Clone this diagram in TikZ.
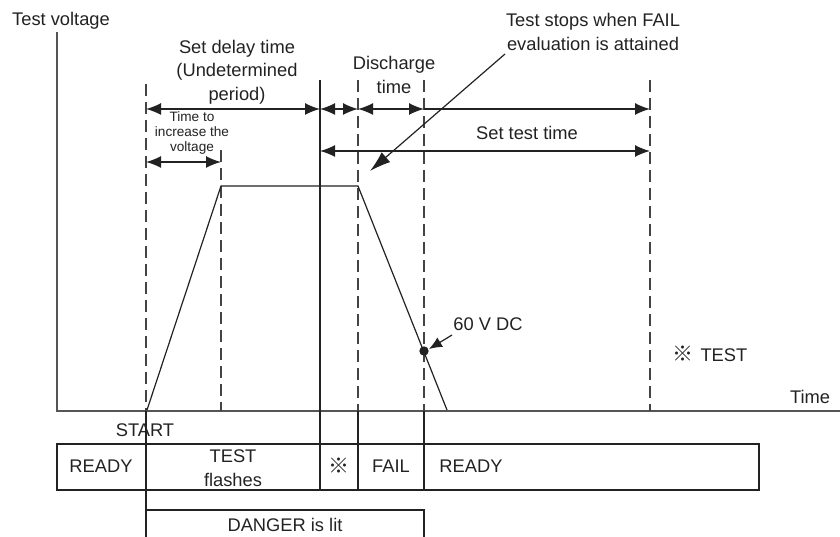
\documentclass[tikz,border=0pt]{standalone}
\usepackage{fontspec}
\setmainfont{Liberation Sans}
\newfontfamily\cjk{Noto Sans CJK JP}
\usetikzlibrary{arrows.meta}
\definecolor{ink}{HTML}{222222}
\definecolor{axisc}{HTML}{555555}
\begin{document}
\begin{tikzpicture}[x=1pt,y=-1pt,
  every node/.style={inner sep=0pt, text=ink, align=center},
  lbl/.style={font=\fontsize{18.3}{23.5}\selectfont},
  small/.style={font=\fontsize{13.6}{15}\selectfont},
  axisline/.style={draw=axisc, line width=1.7pt},
  thin/.style={draw=ink, line width=1.2pt},
  guide/.style={draw=ink!85, line width=1.4pt, dash pattern=on 12pt off 6pt},
  dim/.style={draw=ink, line width=1.4pt, {Latex[length=15pt,width=12pt]}-{Latex[length=15pt,width=12pt]}},
  dimr/.style={draw=ink, line width=1.4pt, -{Latex[length=15pt,width=12pt]}},
  pointer/.style={draw=ink, line width=1.2pt, -{Latex[length=21pt,width=13pt]}},
  pointsm/.style={draw=ink, line width=1.2pt, -{Latex[length=13pt,width=11pt]}},
  boxline/.style={draw=ink, line width=1.4pt}]
\useasboundingbox (0,0) rectangle (840,537);

% axes
\coordinate (ytop) at (57,32);
\coordinate (orig) at (57,411);
\coordinate (xend) at (840,411);
\draw[axisline] (ytop) -- (orig) -- (xend);

% vertical guides
\coordinate (a1) at (146,84);  \coordinate (a0) at (146,411);
\coordinate (b1) at (221,150); \coordinate (b0) at (221,411);
\coordinate (c1) at (320,80);  \coordinate (c0) at (320,490);
\coordinate (d1) at (358,80);  \coordinate (d0) at (358,411);
\coordinate (e1) at (424,80);  \coordinate (e0) at (424,411);
\coordinate (f1) at (650,80);  \coordinate (f0) at (650,411);
\draw[guide] (a1) -- (a0);
\draw[guide] (b1) -- (b0);
\draw[guide] (d1) -- (d0);
\draw[guide] (e1) -- (e0);
\draw[guide] (f1) -- (f0);
\draw[thin, line width=1.4pt] (c1) -- (c0);

% waveform
\coordinate (w0) at (147,410);
\coordinate (w1) at (221,186);
\coordinate (w2) at (358,186);
\coordinate (w3) at (447,410);
\draw[thin] (w0) -- (w1) -- (w2) -- (w3);
\coordinate (dot) at (424,351);
\fill[ink] (dot) circle (4.7pt);

% dimension arrows row 1
\coordinate (r1a) at (146,109); \coordinate (r1b) at (320,109);
\coordinate (r1c) at (358,109); \coordinate (r1d) at (424,109);
\coordinate (r1e) at (650,109);
\draw[dim] (r1a) -- (r1b);
\draw[dim] (r1b) -- (r1c);
\draw[dim] (r1c) -- (r1d);
\draw[dimr] (r1d) -- (r1e);
% row 2
\coordinate (r2a) at (320,151); \coordinate (r2b) at (650,151);
\draw[dim] (r2a) -- (r2b);
% rise time
\coordinate (r3a) at (146,162); \coordinate (r3b) at (221,162);
\draw[dim] (r3a) -- (r3b);

% labels
\node[lbl, anchor=west] (tv) at (12,21) {Test voltage};
\node[lbl] (sdt) at (237,72) {Set delay time\\(Undetermined\\period)};
\node[lbl] (dis) at (394,75) {Discharge\\time};
\node[lbl] (stop) at (593,32) {Test stops when FAIL\\evaluation is attained};
\node[small] (rise) at (192,133) {Time to\\increase the\\voltage};
\node[lbl] (stt) at (527,133) {Set test time};
\node[lbl] (v60) at (488,324) {60 V DC};
\node[lbl, anchor=west] (note) at (672,354) {{\cjk\fontsize{21}{21}\selectfont ※}\hspace{0.4em}TEST};
\node[lbl] (time) at (810,397) {Time};
\node[lbl] (start) at (145,430) {START};

% pointers
\coordinate (p1s) at (505,54);
\coordinate (p1e) at (370,171);
\draw[pointer] (p1s) -- (p1e);
\coordinate (p2s) at (452,335);
\coordinate (p2e) at (429,349);
\draw[pointsm] (p2s) -- (p2e);

% status bar
\draw[boxline] (57,444) rectangle (759,490);
\draw[thin, line width=1.4pt] (146,411) -- (146,537);
\draw[thin, line width=1.4pt] (358,411) -- (358,490);
\draw[thin, line width=1.4pt] (424,411) -- (424,490);
\node[lbl] (s1) at (101,466) {READY};
\node[lbl] (s2) at (233,468) {TEST\\flashes};
\node[lbl] (s3) at (339,466) {\cjk\fontsize{21}{21}\selectfont ※};
\node[lbl] (s4) at (391,466) {FAIL};
\node[lbl] (s5) at (471,466) {READY};

% danger box
\draw[boxline] (146,510) -- (424,510) -- (424,537);
\node[lbl] (dg) at (285,525) {DANGER is lit};
\end{tikzpicture}
\end{document}
